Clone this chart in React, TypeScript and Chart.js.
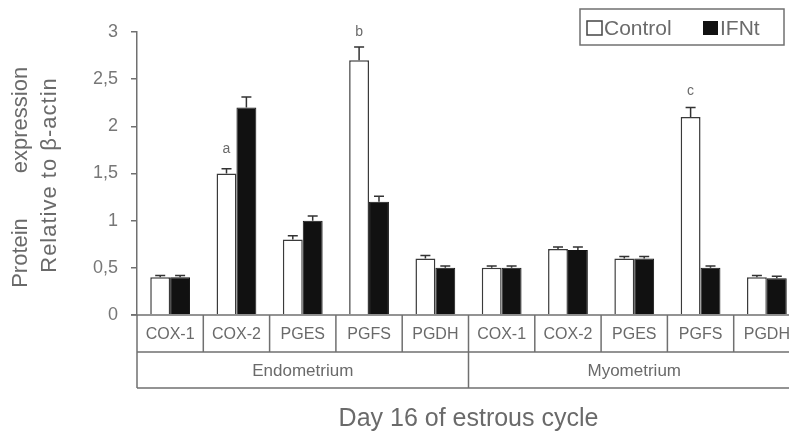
import React, { useEffect, useRef } from "react";
import { Chart, registerables } from "chart.js";

Chart.register(...registerables);

const categories = ["COX-1", "COX-2", "PGES", "PGFS", "PGDH", "COX-1", "COX-2", "PGES", "PGFS", "PGDH"];
const groups = ["Endometrium", "Myometrium"];
const groupSizes = [5, 5];
const controlValues = [0.4, 1.5, 0.8, 2.7, 0.6, 0.5, 0.7, 0.6, 2.1, 0.4];
const ifntValues = [0.4, 2.2, 1.0, 1.2, 0.5, 0.5, 0.69, 0.6, 0.5, 0.39];
const controlErrors = [0.02, 0.05, 0.04, 0.14, 0.03, 0.02, 0.02, 0.02, 0.1, 0.02];
const ifntErrors = [0.02, 0.11, 0.05, 0.06, 0.02, 0.02, 0.03, 0.02, 0.02, 0.02];
const letters = ["", "a", "", "b", "", "", "", "", "c", ""];
const letterValues = [0, 1.76, 0, 3.0, 0, 0, 0, 0, 2.37, 0];
const yTicks = [0, 0.5, 1, 1.5, 2, 2.5, 3];

const FONT = "'Liberation Sans', Arial, sans-serif";
const TEXT = "#6a6a6a";
const LINE = "#707070";

const overlay = {
  id: "overlay",
  afterDatasetsDraw(chart: any) {
    const ctx = chart.ctx;
    const x = chart.scales.x;
    const y = chart.scales.y;
    const area = chart.chartArea;
    const step = x.getPixelForValue(1) - x.getPixelForValue(0);
    ctx.save();

    // error bars
    const drawErr = (dsIndex: number, errs: number[], vals: number[]) => {
      const meta = chart.getDatasetMeta(dsIndex);
      meta.data.forEach((bar: any, i: number) => {
        const top = y.getPixelForValue(vals[i] + errs[i]);
        const base = y.getPixelForValue(vals[i]);
        ctx.strokeStyle = "#333";
        ctx.lineWidth = 1.5;
        ctx.beginPath();
        ctx.moveTo(bar.x, base);
        ctx.lineTo(bar.x, top);
        ctx.moveTo(bar.x - 5, top);
        ctx.lineTo(bar.x + 5, top);
        ctx.stroke();
      });
    };
    drawErr(0, controlErrors, controlValues);
    drawErr(1, ifntErrors, ifntValues);

    // letters
    ctx.fillStyle = TEXT;
    ctx.font = `14px ${FONT}`;
    ctx.textAlign = "center";
    ctx.textBaseline = "middle";
    const m0 = chart.getDatasetMeta(0);
    letters.forEach((l, i) => {
      if (!l) return;
      const bar: any = m0.data[i];
      ctx.fillText(l, bar.x, y.getPixelForValue(letterValues[i]));
    });

    // table
    const y0 = area.bottom;
    const y1 = y0 + 37;
    const y2 = y1 + 36;
    const left = x.getPixelForValue(0) - step / 2;
    const right = x.getPixelForValue(categories.length - 1) + step / 2;
    ctx.strokeStyle = LINE;
    ctx.lineWidth = 1.5;
    ctx.beginPath();
    ctx.moveTo(left - 6, y0);
    ctx.lineTo(right, y0);
    ctx.moveTo(left, y1);
    ctx.lineTo(right, y1);
    ctx.moveTo(left, y2);
    ctx.lineTo(right, y2);
    for (let i = 0; i <= categories.length; i++) {
      const px = x.getPixelForValue(i) - step / 2;
      ctx.moveTo(px, y0);
      ctx.lineTo(px, y1);
    }
    let acc = 0;
    for (let g = 0; g <= groups.length; g++) {
      const px = x.getPixelForValue(acc) - step / 2;
      ctx.moveTo(px, y1);
      ctx.lineTo(px, y2);
      if (g < groups.length) acc += groupSizes[g];
    }
    ctx.stroke();

    ctx.fillStyle = TEXT;
    ctx.font = `16px ${FONT}`;
    categories.forEach((c, i) => {
      ctx.fillText(c, x.getPixelForValue(i), (y0 + y1) / 2 + 1);
    });
    ctx.font = `17px ${FONT}`;
    acc = 0;
    groups.forEach((g, gi) => {
      const mid = (x.getPixelForValue(acc) + x.getPixelForValue(acc + groupSizes[gi] - 1)) / 2;
      ctx.fillText(g, mid, (y1 + y2) / 2 + 1);
      acc += groupSizes[gi];
    });

    // x title
    ctx.textBaseline = "alphabetic";
    ctx.font = `25px ${FONT}`;
    ctx.fillText("Day 16 of estrous cycle", (left + right) / 2, 426);

    // y title
    ctx.save();
    ctx.translate(0, 0);
    ctx.rotate(-Math.PI / 2);
    ctx.textBaseline = "middle";
    ctx.font = `22px ${FONT}`;
    ctx.fillText("Protein", -253, 21);
    ctx.fillText("expression", -120, 21);
    (ctx as any).letterSpacing = "1px";
    ctx.fillText("Relative to \u03b2-actin", -175, 50);
    (ctx as any).letterSpacing = "0px";
    ctx.restore();

    // legend
    ctx.strokeStyle = LINE;
    ctx.lineWidth = 1.5;
    ctx.strokeRect(580, 9, 204, 36);
    ctx.strokeStyle = "#444";
    ctx.fillStyle = "#fff";
    ctx.fillRect(587, 21, 15, 14);
    ctx.strokeRect(587, 21, 15, 14);
    ctx.fillStyle = "#111";
    ctx.fillRect(703, 21, 15, 14);
    ctx.fillStyle = TEXT;
    ctx.font = `21px ${FONT}`;
    ctx.textAlign = "left";
    ctx.textBaseline = "alphabetic";
    ctx.fillText("Control", 604, 35);
    ctx.fillText("IFNt", 720, 35);

    ctx.restore();
  },
};

export default function App() {
  const ref = useRef<HTMLCanvasElement | null>(null);
  useEffect(() => {
    if (!ref.current) return;
    const chart = new Chart(ref.current, {
      type: "bar",
      data: {
        labels: categories,
        datasets: [
          {
            label: "Control",
            data: controlValues,
            backgroundColor: "#ffffff",
            borderColor: "#3a3a3a",
            borderWidth: 1.5,
            barPercentage: 1,
            categoryPercentage: 0.6,
          },
          {
            label: "IFNt",
            data: ifntValues,
            backgroundColor: "#111111",
            borderColor: "#111111",
            borderWidth: 1,
            barPercentage: 1,
            categoryPercentage: 0.6,
          },
        ],
      },
      options: {
        animation: false,
        responsive: false,
        layout: { padding: { left: 0, top: 32, bottom: 117, right: 22 } },
        plugins: { legend: { display: false }, tooltip: { enabled: false } },
        scales: {
          x: { display: false },
          y: {
            min: 0,
            max: 3,
            afterFit: (s: any) => {
              s.width = 137;
            },
            afterBuildTicks: (s: any) => {
              s.ticks = yTicks.map((v) => ({ value: v }));
            },
            border: { color: LINE, width: 1.5 },
            grid: { drawOnChartArea: false, color: LINE, tickLength: 6, lineWidth: 1.5 },
            ticks: {
              color: "#777",
              padding: 13,
              font: { family: FONT, size: 18 },
              callback: (v: any) => String(v).replace(".", ","),
            },
          },
        },
      },
      plugins: [overlay],
    });
    return () => chart.destroy();
  }, []);
  return (
    <div style={{ position: "fixed", left: 0, top: 0, width: 789, height: 432, overflow: "hidden", background: "#fff" }}>
      <canvas ref={ref} width={822} height={432} style={{ width: 822, height: 432, display: "block" }} />
    </div>
  );
}
